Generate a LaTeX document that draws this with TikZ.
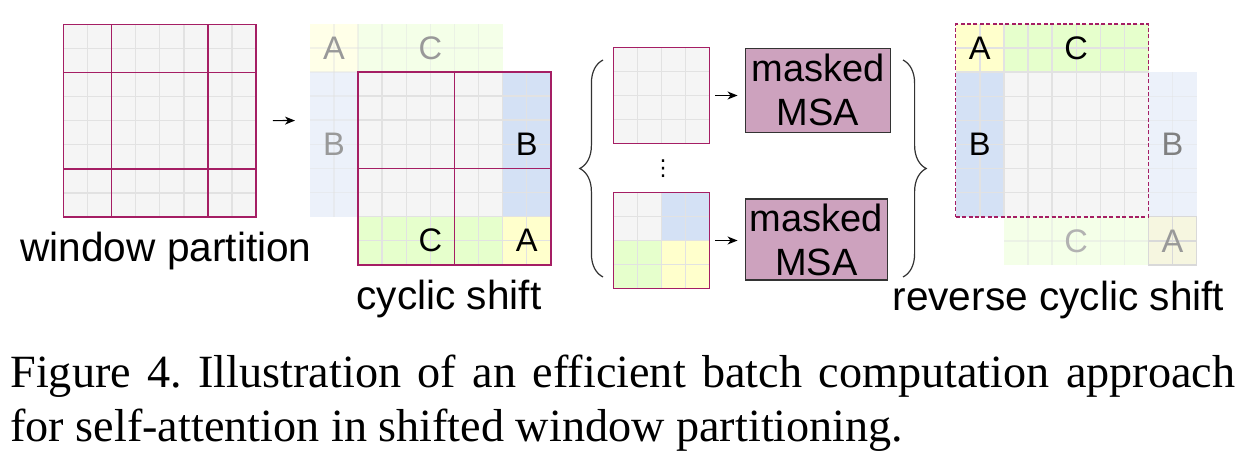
\documentclass[tikz,border=0pt]{standalone}
\usepackage{fontspec}
\setmainfont{Liberation Serif}
\setsansfont{Liberation Sans}
\newfontfamily\symfont{DejaVu Sans}
\usetikzlibrary{arrows.meta,positioning,decorations.pathreplacing}
\definecolor{cellgray}{HTML}{F5F5F5}
\definecolor{cellline}{HTML}{E2E2E2}
\definecolor{winred}{RGB}{165,30,100}
\definecolor{shiftblue}{HTML}{D4E1F5}
\definecolor{shiftgreen}{HTML}{E6FFCC}
\definecolor{shiftyellow}{HTML}{FFFFCC}
\definecolor{ghostyellow}{RGB}{246,246,224}
\definecolor{msafill}{HTML}{CDA2BE}
\newcommand{\cellsz}{12.05pt}
\frenchspacing

\begin{document}
\begin{tikzpicture}[
    x=0.5pt, y=-0.5pt,
    gridline/.style={cellline, line width=0.7pt},
    winline/.style={winred, line width=0.75pt},
    winframe/.style={draw=winred, line width=0.75pt, inner sep=0},
    letter/.style={font=\sffamily\fontsize{16.3}{18}\selectfont, inner sep=0},
    ghostletter/.style={letter, text=black!40},
    title/.style={font=\sffamily\fontsize{20.3}{23}\selectfont, inner sep=0, anchor=base},
    msa/.style={rectangle, draw=black!80, fill=msafill, line width=0.75pt, align=center,
                font=\sffamily\fontsize{19}{22}\selectfont, inner sep=0},
    arr/.style={-{Stealth[length=5pt, width=4pt, inset=1.5pt]}, line width=0.6pt},
    curly/.style={decorate, decoration={brace, amplitude=11.6pt}, black!80, line width=0.6pt},
    caption/.style={text width=612.5pt, align=justify, inner sep=0,
                    font=\rmfamily\fontsize{23.1}{26.7}\selectfont}
]
    \useasboundingbox (0,0) rectangle (1249,470);

    % Window partition
    \begin{scope}[shift={(63.3,24.3)}, x=\cellsz, y=-\cellsz]
        \fill[cellgray] (0,0) rectangle (8,8);
        \foreach \i in {1,...,7}
            \draw[gridline] (\i,0) -- (\i,8) (0,\i) -- (8,\i);
        \draw[winline] (2,0) -- (2,8) (6,0) -- (6,8) (0,2) -- (8,2) (0,6) -- (8,6);
        \node[winframe, minimum size=96.4pt] (part) at (4,4) {};
    \end{scope}
    \node[title] (parttitle) at (166,262) {window partition};

    % Cyclic shift
    \begin{scope}[shift={(358,72)}, x=\cellsz, y=-\cellsz]
        \begin{scope}[opacity=0.45]
            \fill[shiftyellow] (-2,-2) rectangle (0,0);
            \fill[shiftgreen] (0,-2) rectangle (6,0);
            \fill[shiftblue] (-2,0) rectangle (0,6);
            \foreach \i in {-1,...,5}
                \draw[gridline] (\i,-2) -- (\i,0);
            \foreach \i in {0,...,5}
                \draw[gridline] (-2,\i) -- (0,\i);
            \draw[gridline] (-2,-1) -- (6,-1) (-1,0) -- (-1,6);
        \end{scope}
        \fill[cellgray] (0,0) rectangle (6,6);
        \fill[shiftblue] (6,0) rectangle (8,6);
        \fill[shiftgreen] (0,6) rectangle (6,8);
        \fill[shiftyellow] (6,6) rectangle (8,8);
        \foreach \i in {1,...,7}
            \draw[gridline] (\i,0) -- (\i,8) (0,\i) -- (8,\i);
        \draw[winline] (4,0) -- (4,8) (0,4) -- (8,4);
        \node[winframe, minimum size=96.4pt] (cyc) at (4,4) {};
        \node[ghostletter] (cycAg) at (-1,-1) {A};
        \node[ghostletter] (cycCg) at (3,-1) {C};
        \node[ghostletter] (cycBg) at (-1,3) {B};
        \node[letter] (cycB) at (7,3) {B};
        \node[letter] (cycC) at (3,7) {C};
        \node[letter] (cycA) at (7,7) {A};
    \end{scope}
    \coordinate (cycin) at (310,120.5);
    \node[title] (cyctitle) at (449,310) {cyclic shift};

    % Arrow
    \draw[arr, shorten <=8pt, shorten >=7.5pt] (part.east) -- (cycin);

    % Batched windows
    \draw[curly] (603,277) -- (603,60);
    \begin{scope}[shift={(613.3,47.3)}, x=\cellsz, y=-\cellsz]
        \fill[cellgray] (0,0) rectangle (4,4);
        \foreach \i in {1,...,3}
            \draw[gridline] (\i,0) -- (\i,4) (0,\i) -- (4,\i);
        \node[winframe, minimum size=48.2pt] (win1) at (2,2) {};
    \end{scope}
    \node[font=\symfont\fontsize{11}{12}\selectfont, inner sep=0] (dots) at (663,169) {⋮};
    \begin{scope}[shift={(613.3,192.3)}, x=\cellsz, y=-\cellsz]
        \fill[cellgray] (0,0) rectangle (2,2);
        \fill[shiftblue] (2,0) rectangle (4,2);
        \fill[shiftgreen] (0,2) rectangle (2,4);
        \fill[shiftyellow] (2,2) rectangle (4,4);
        \foreach \i in {1,...,3}
            \draw[gridline] (\i,0) -- (\i,4) (0,\i) -- (4,\i);
        \node[winframe, minimum size=48.2pt] (win2) at (2,2) {};
    \end{scope}

    % Masked MSA
    \node[msa, minimum width=72.7pt, minimum height=42pt] (msa1) at (818,90.3) {masked\\MSA};
    \node[msa, minimum width=71pt, minimum height=40.5pt] (msa2) at (816.3,239.5) {masked\\MSA};
    \draw[arr, shorten <=2.5pt, shorten >=3.5pt] (win1.east) -- (win1.east -| msa1.west);
    \draw[arr, shorten <=2.5pt, shorten >=3.5pt] (win2.east) -- (win2.east -| msa2.west);
    \draw[curly] (903,60) -- (903,277);

    % Reverse cyclic shift
    \begin{scope}[shift={(955.7,24)}, x=\cellsz, y=-\cellsz]
        \begin{scope}[opacity=0.45]
            \fill[shiftblue] (8,2) rectangle (10,8);
            \fill[shiftgreen] (2,8) rectangle (8,10);
            \foreach \i in {3,...,8}
                \draw[gridline] (\i,8) -- (\i,10) (8,\i) -- (10,\i);
            \draw[gridline] (9,2) -- (9,8) (2,9) -- (8,9);
        \end{scope}
        \fill[ghostyellow] (8,8) rectangle (10,10);
        \draw[gray!30, line width=0.7pt] (8,8) rectangle (10,10) (9,8) -- (9,10) (8,9) -- (10,9);
        \fill[shiftyellow] (0,0) rectangle (2,2);
        \fill[shiftgreen] (2,0) rectangle (8,2);
        \fill[shiftblue] (0,2) rectangle (2,8);
        \fill[cellgray] (2,2) rectangle (8,8);
        \foreach \i in {1,...,7}
            \draw[gridline] (\i,0) -- (\i,8) (0,\i) -- (8,\i);
        \node[winframe, dash pattern=on 2pt off 1.2pt, minimum size=96.4pt] (rev) at (4,4) {};
        \node[letter] (revA) at (1,1) {A};
        \node[letter] (revC) at (5,1) {C};
        \node[letter] (revB) at (1,5) {B};
        \node[ghostletter, text=black!50] (revBg) at (9,5) {B};
        \node[ghostletter, text=black!30] (revCg) at (5,9) {C};
        \node[ghostletter] (revAg) at (9,9) {A};
    \end{scope}
    \node[title] (revtitle) at (1058.4,311) {reverse cyclic shift};

    % Caption
    \node[caption, anchor=north west] (cap) at (10,355)
        {Figure 4. Illustration of an efficient batch computation approach\linebreak
         for self-attention in shifted window partitioning.};
\end{tikzpicture}
\end{document}
